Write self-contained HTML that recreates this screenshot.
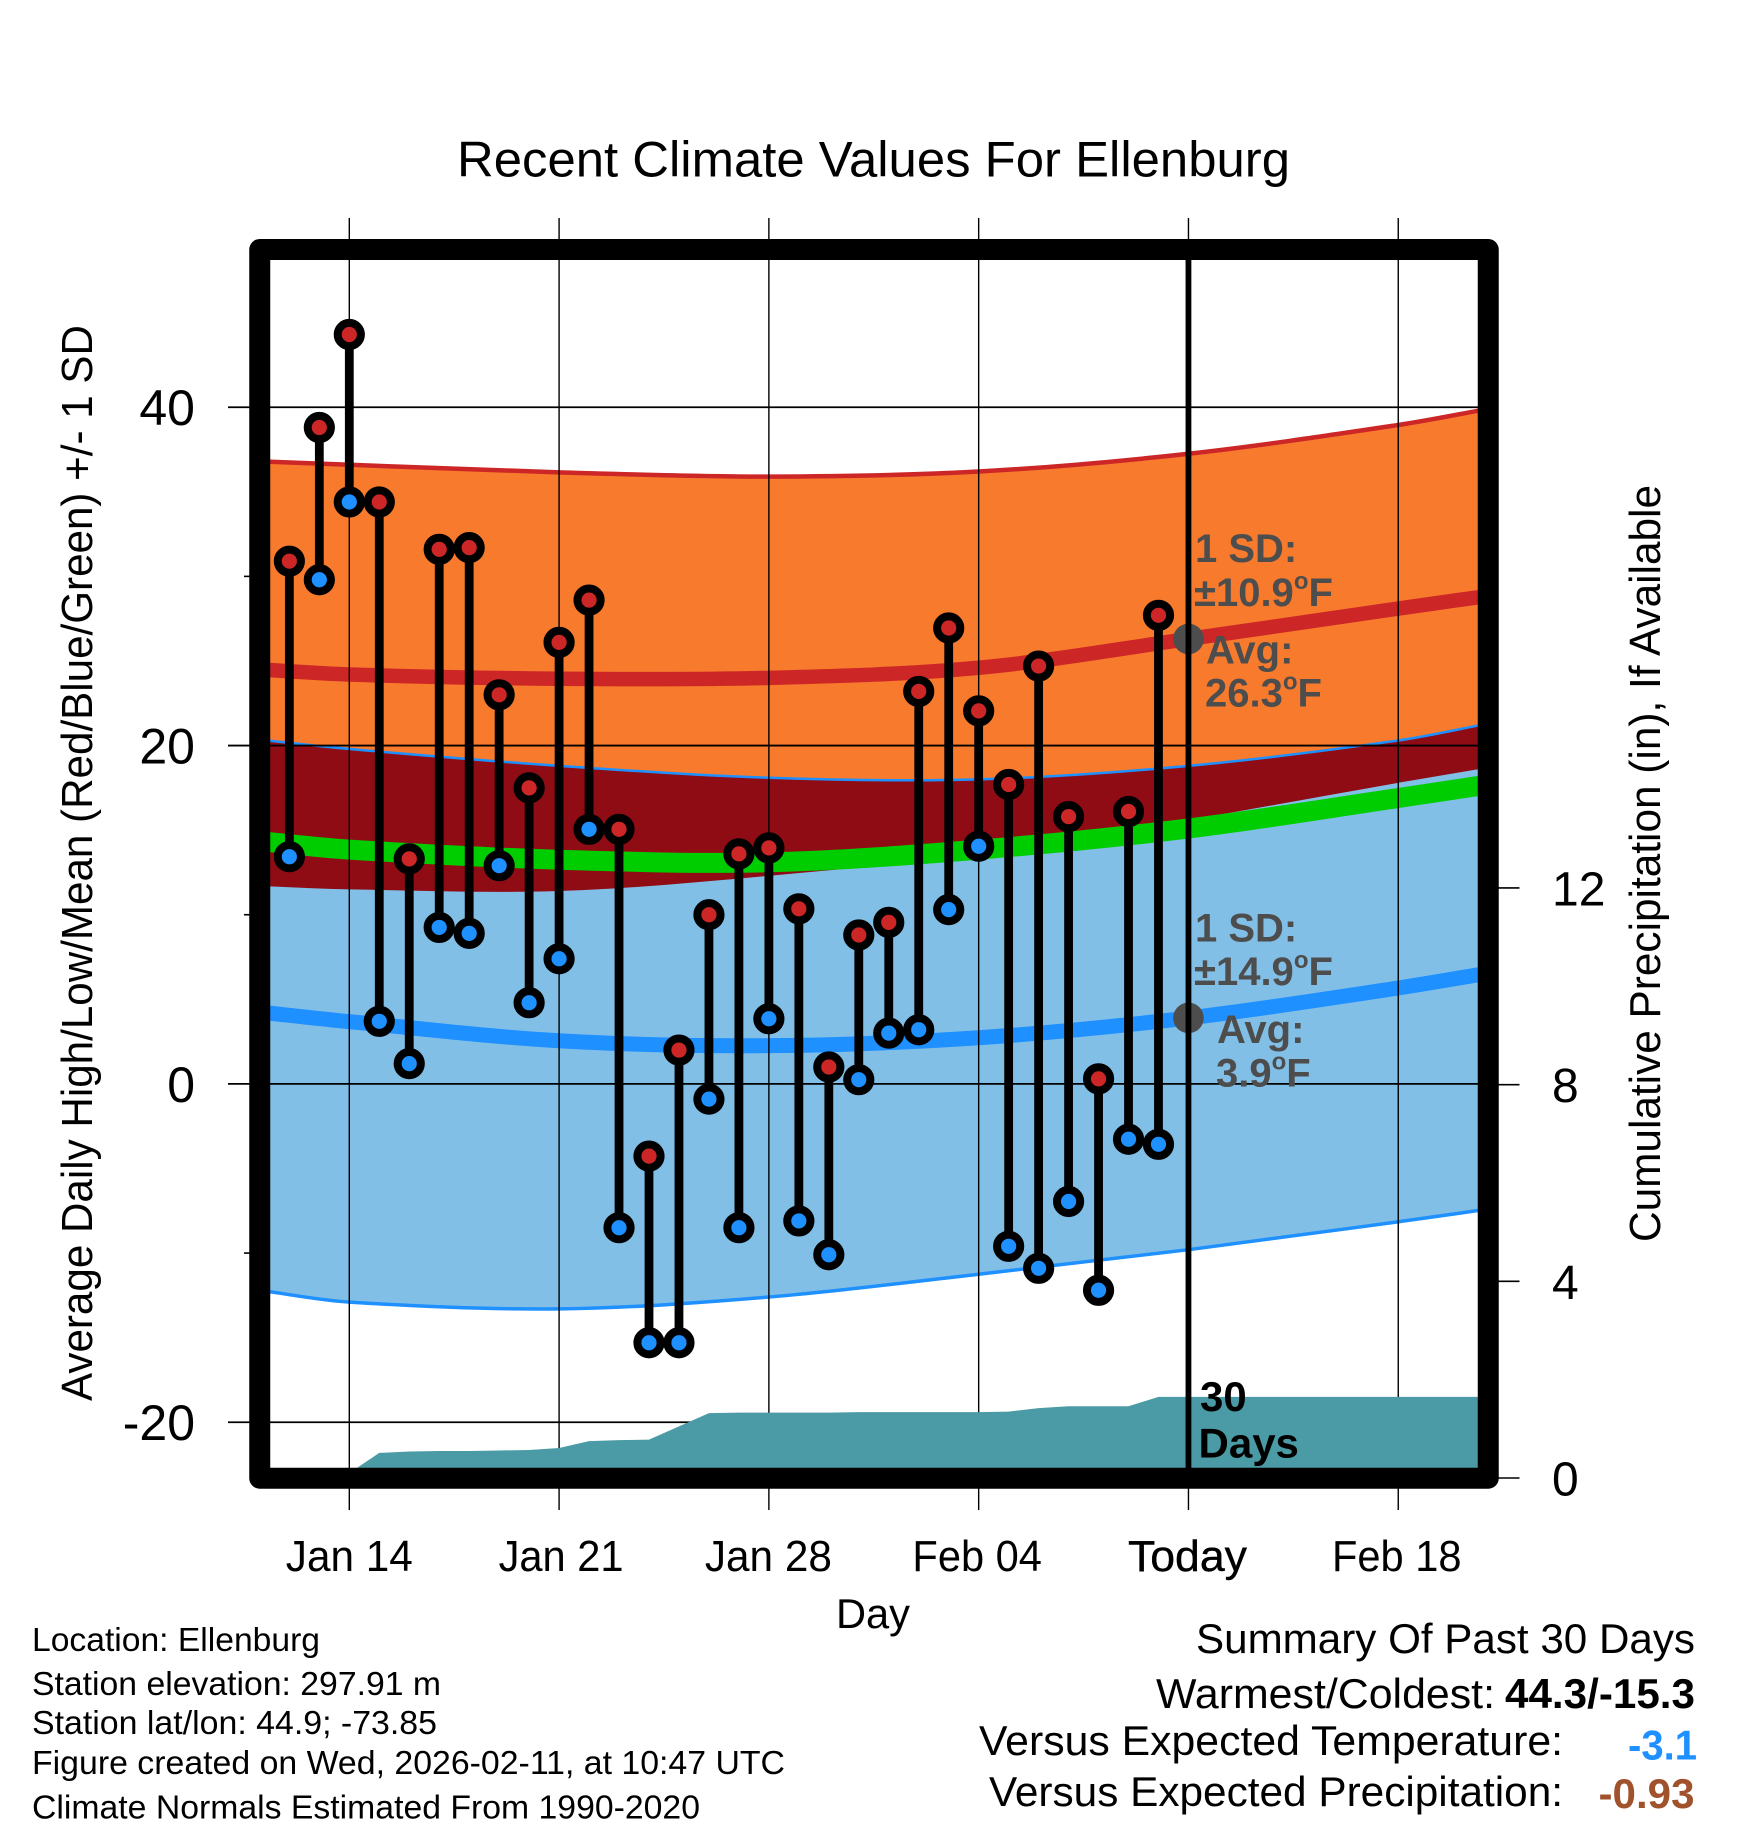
<!DOCTYPE html>
<html lang="en">
<head>
<meta charset="utf-8">
<title>Recent Climate Values For Ellenburg</title>
<style>
html,body{margin:0;padding:0;background:#fff;}
svg{display:block;font-family:"Liberation Sans",Arial,sans-serif;}
text{fill:#000;}
.g{fill:#4d4d4d;font-weight:bold;font-size:40px;}
</style>
</head>
<body>
<svg id="chart" xmlns="http://www.w3.org/2000/svg" width="1748" height="1828" viewBox="0 0 1748 1828">
<defs><clipPath id="plot-clip"><rect x="270" y="260" width="1208" height="1208"/></clipPath></defs>
<rect x="0" y="0" width="1748" height="1828" fill="#fff"/>
<g id="plot" clip-path="url(#plot-clip)"></g>
<g id="axes"></g>
<g id="marks" clip-path="url(#plot-clip)"></g>

<text x="873.5" y="176.5" font-size="50" text-anchor="middle" textLength="833" lengthAdjust="spacingAndGlyphs">Recent Climate Values For Ellenburg</text>
<text transform="translate(92 863) rotate(-90)" font-size="44" text-anchor="middle" textLength="1076" lengthAdjust="spacingAndGlyphs">Average Daily High/Low/Mean (Red/Blue/Green) +/- 1 SD</text>
<text transform="translate(1660 863.5) rotate(-90)" font-size="44" text-anchor="middle" textLength="757" lengthAdjust="spacingAndGlyphs">Cumulative Precipitation (in), If Available</text>
<text x="873" y="1628" font-size="42" text-anchor="middle" textLength="74" lengthAdjust="spacingAndGlyphs">Day</text>

<text class="g" x="1195" y="562">1 SD:</text>
<text class="g" x="1194" y="606">±10.9<tspan font-size="24" dy="-17">o</tspan><tspan dy="17">F</tspan></text>
<text class="g" x="1206" y="663.5">Avg:</text>
<text class="g" x="1205" y="706.5">26.3<tspan font-size="24" dy="-17">o</tspan><tspan dy="17">F</tspan></text>
<text class="g" x="1195" y="941.5">1 SD:</text>
<text class="g" x="1194" y="985">±14.9<tspan font-size="24" dy="-17">o</tspan><tspan dy="17">F</tspan></text>
<text class="g" x="1217" y="1043">Avg:</text>
<text class="g" x="1216" y="1086.5">3.9<tspan font-size="24" dy="-17">o</tspan><tspan dy="17">F</tspan></text>

<text x="1200" y="1411" font-size="42" font-weight="bold">30</text>
<text x="1198.5" y="1457.5" font-size="42" font-weight="bold">Days</text>

<text x="32" y="1651" font-size="33" textLength="288" lengthAdjust="spacingAndGlyphs">Location: Ellenburg</text>
<text x="32" y="1695" font-size="33" textLength="409" lengthAdjust="spacingAndGlyphs">Station elevation: 297.91 m</text>
<text x="32" y="1734" font-size="33" textLength="405" lengthAdjust="spacingAndGlyphs">Station lat/lon: 44.9; -73.85</text>
<text x="32" y="1774" font-size="33" textLength="753" lengthAdjust="spacingAndGlyphs">Figure created on Wed, 2026-02-11, at 10:47 UTC</text>
<text x="32" y="1818.5" font-size="33" textLength="668" lengthAdjust="spacingAndGlyphs">Climate Normals Estimated From 1990-2020</text>

<text x="1695" y="1653" font-size="42" text-anchor="end" textLength="499" lengthAdjust="spacingAndGlyphs">Summary Of Past 30 Days</text>
<text x="1495" y="1708" font-size="42" text-anchor="end" textLength="339" lengthAdjust="spacingAndGlyphs">Warmest/Coldest:</text>
<text x="1695" y="1708" font-size="42" font-weight="bold" text-anchor="end" textLength="190" lengthAdjust="spacingAndGlyphs">44.3/-15.3</text>
<text x="1563" y="1755" font-size="42" text-anchor="end" textLength="584" lengthAdjust="spacingAndGlyphs">Versus Expected Temperature:</text>
<text x="1697" y="1759.5" font-size="42" font-weight="bold" text-anchor="end" style="fill:#1e90ff" textLength="69" lengthAdjust="spacingAndGlyphs">-3.1</text>
<text x="1563" y="1806" font-size="42" text-anchor="end" textLength="574" lengthAdjust="spacingAndGlyphs">Versus Expected Precipitation:</text>
<text x="1694.5" y="1808" font-size="42" font-weight="bold" text-anchor="end" style="fill:#a0522d" textLength="96" lengthAdjust="spacingAndGlyphs">-0.93</text>
</svg>

<script>
// Daily observations, Jan 12 through Feb 10 (degrees F)
const dailyHigh = [30.9,38.8,44.3,34.4,13.3,31.6,31.7,23.0,17.5,26.1,28.6,15.05,-4.27,2.0,10.0,13.6,13.95,10.35,1.0,8.8,9.55,23.2,26.95,22.05,17.7,24.7,15.8,0.3,16.1,27.7];
const dailyLow = [13.43,29.8,34.4,3.7,1.2,9.25,8.9,12.9,4.8,7.4,15.05,-8.5,-15.3,-15.3,-0.9,-8.5,3.85,-8.1,-10.1,0.25,3.0,3.2,10.3,14.05,-9.6,-10.9,-6.95,-12.2,-3.27,-3.57];
// Cumulative precipitation (inches), Jan 12 through Feb 10
const cumulativePrecip = [0,0,0.1,0.51,0.54,0.55,0.55,0.56,0.57,0.61,0.75,0.77,0.78,1.05,1.32,1.33,1.33,1.33,1.33,1.34,1.34,1.34,1.34,1.34,1.35,1.42,1.46,1.46,1.46,1.65];
// Climate normals, sampled at days counted from Jan 14
const normalDays = [-3,0,7,14,21,28,35,38];
const normalHighPlusSd = [36.8,36.6,36.15,35.9,36.2,37.25,38.95,39.9];
const normalHigh = [24.5,24.2,23.95,24.0,24.6,26.3,28.1,28.85];
const normalHighMinusSd = [11.7,11.5,11.4,12.3,13.6,15.6,17.8,18.7];
const normalMean = [14.35,13.85,13.25,13.1,13.85,15.1,16.9,17.7];
const normalLowPlusSd = [20.35,19.8,18.8,18.1,18.0,18.8,20.3,21.3];
const normalLow = [4.25,3.68,2.55,2.26,2.73,3.9,5.67,6.55];
const normalLowMinusSd = [-12.2,-12.9,-13.3,-12.6,-11.25,-9.8,-8.15,-7.4];
// Axes
const xTickDays = [0,7,14,21,28,35];
const xTickLabels = ['Jan 14','Jan 21','Jan 28','Feb 04','Today','Feb 18'];
const yMajorTicks = [40,20,0,-20];
const yMinorTicks = [30,10,-10];
const rightTicks = [12,8,4,0];
const firstObservationDay = -2;
const todayDay = 28;
const extendToDay = 38;
const todayHigh = 26.3;
const todayLow = 3.9;

const NS = 'http://www.w3.org/2000/svg';
const xOf = d => 349.3 + d * 29.97;
const yOf = t => 1083.9 - t * 16.917;
const yPrecip = p => 1478 - p * 49.17;
const plot = document.getElementById('plot');
const axes = document.getElementById('axes');
const marks = document.getElementById('marks');

// Fine-tuning for individual tick label text boxes
const tickLabelFit = {
  'Jan 14': {dx: 0, w: 127},
  'Jan 21': {dx: 2, w: 125},
  'Jan 28': {dx: -0.5, w: 127},
  'Feb 04': {dx: -1.5, w: 129.5},
  'Today': {dx: -1, w: 119},
  'Feb 18': {dx: -1.5, w: 129.5}
};

function make(tag, parent, props) {
  const el = document.createElementNS(NS, tag);
  for (const k in props) el.setAttribute(k, props[k]);
  parent.appendChild(el);
  return el;
}
function curvePoints(values) {
  return values.map((v, i) => [xOf(normalDays[i]), yOf(v)]);
}
function smooth(pts) {
  let d = '';
  for (let i = 0; i < pts.length - 1; i++) {
    const p0 = pts[Math.max(i - 1, 0)], p1 = pts[i], p2 = pts[i + 1], p3 = pts[Math.min(i + 2, pts.length - 1)];
    const h = p2[0] - p1[0];
    const m1 = (p2[1] - p0[1]) / (p2[0] - p0[0]);
    const m2 = (p3[1] - p1[1]) / (p3[0] - p1[0]);
    d += (i === 0 ? 'M' + p1[0] + ' ' + p1[1] : '') +
      'C' + (p1[0] + h / 3) + ' ' + (p1[1] + m1 * h / 3) + ' ' + (p2[0] - h / 3) + ' ' + (p2[1] - m2 * h / 3) + ' ' + p2[0] + ' ' + p2[1];
  }
  return d;
}
function band(upper, lower) {
  const back = smooth(curvePoints(lower).reverse()).replace(/^M/, 'L');
  return smooth(curvePoints(upper)) + back + 'Z';
}

// Normal bands
let el = make('path', plot, {d: band(normalHighPlusSd, normalHighMinusSd), fill: '#f77a2d'});


el = make('path', plot, {d: band(normalLowPlusSd, normalLowMinusSd), fill: '#82bfe6'});


el = make('path', plot, {d: band(normalLowPlusSd, normalHighMinusSd), fill: '#8f0c14'});



// Band edges
el = make('path', plot, {d: smooth(curvePoints(normalHighPlusSd)), fill: 'none', stroke: '#cd2626', 'stroke-width': 4.5});


el = make('path', plot, {d: smooth(curvePoints(normalLowPlusSd)), fill: 'none', stroke: '#1e90ff', 'stroke-width': 2.5});


el = make('path', plot, {d: smooth(curvePoints(normalLowMinusSd)), fill: 'none', stroke: '#1e90ff', 'stroke-width': 3.5});



// Thick normal lines
el = make('path', plot, {d: smooth(curvePoints(normalHigh)), fill: 'none', stroke: '#cd2626', 'stroke-width': 14.5});


el = make('path', plot, {d: smooth(curvePoints(normalLow)), fill: 'none', stroke: '#1e90ff', 'stroke-width': 15});


el = make('path', plot, {d: smooth(curvePoints(normalMean)), fill: 'none', stroke: '#00cd00', 'stroke-width': 20});



// Grid lines and ticks
xTickDays.forEach((d, i) => {
  const line = make('line', axes, {x1: xOf(d), x2: xOf(d), y1: 218, y2: 1510, stroke: '#000', 'stroke-width': 1.4});
  
  
  const fit = tickLabelFit[xTickLabels[i]];
  const label = make('text', axes, {x: xOf(d) + fit.dx, y: 1571, 'font-size': 44, 'text-anchor': 'middle', textLength: fit.w, lengthAdjust: 'spacingAndGlyphs'});
  label.textContent = xTickLabels[i];
  if (xTickLabels[i] === 'Today') { label.setAttribute('stroke', '#000'); label.setAttribute('stroke-width', '0.4'); }
  
  
});
yMajorTicks.forEach(t => {
  const line = make('line', axes, {x1: 228, x2: 1478, y1: yOf(t), y2: yOf(t), stroke: '#000', 'stroke-width': 1.8});
  
  
  const label = make('text', axes, {x: 195, y: yOf(t) + 18, 'font-size': 50, 'text-anchor': 'end'});
  label.textContent = String(t);
  
  
});
yMinorTicks.forEach(t => {
  const line = make('line', axes, {x1: 244, x2: 260, y1: yOf(t), y2: yOf(t), stroke: '#000', 'stroke-width': 1.6});
  
  
});
rightTicks.forEach(p => {
  const line = make('line', axes, {x1: 1490, x2: 1519.5, y1: yPrecip(p), y2: yPrecip(p), stroke: '#000', 'stroke-width': 1.6});
  
  
  const label = make('text', axes, {x: 1552, y: yPrecip(p) + 17.5, 'font-size': 48});
  label.textContent = String(p);
  
  
});

// Cumulative precipitation area
const precipPts = cumulativePrecip.map((p, i) => xOf(firstObservationDay + i) + ',' + yPrecip(p));
const lastPrecip = cumulativePrecip[cumulativePrecip.length - 1];
precipPts.push(xOf(extendToDay) + ',' + yPrecip(lastPrecip));
precipPts.push(xOf(extendToDay) + ',' + yPrecip(0));
precipPts.push(xOf(firstObservationDay) + ',' + yPrecip(0));
el = make('polygon', marks, {points: precipPts.join(' '), fill: '#4a9ba5'});



// Today markers and line
el = make('circle', marks, {cx: xOf(todayDay), cy: yOf(todayHigh), r: 15.3, fill: '#4d4d4d'});


el = make('circle', marks, {cx: xOf(todayDay), cy: yOf(todayLow), r: 15.3, fill: '#4d4d4d'});


el = make('line', marks, {x1: xOf(todayDay), x2: xOf(todayDay), y1: 240, y2: 1490, stroke: '#000', 'stroke-width': 5.8});



// Daily stems and markers
dailyHigh.forEach((h, i) => {
  const x = xOf(firstObservationDay + i);
  const stem = make('line', marks, {x1: x, x2: x, y1: yOf(h), y2: yOf(dailyLow[i]), stroke: '#000', 'stroke-width': 8.8});
  
  
});
dailyHigh.forEach((h, i) => {
  const x = xOf(firstObservationDay + i);
  const low = make('circle', marks, {cx: x, cy: yOf(dailyLow[i]), r: 11.6, fill: '#1e90ff', stroke: '#000', 'stroke-width': 8});
  
  
  const high = make('circle', marks, {cx: x, cy: yOf(h), r: 11.6, fill: '#cd2626', stroke: '#000', 'stroke-width': 8});
  
  
});

// Plot frame
el = make('rect', document.getElementById('chart'), {x: 259.75, y: 249.5, width: 1228.5, height: 1228.7, fill: 'none', stroke: '#000', 'stroke-width': 21, 'stroke-linejoin': 'round'});


</script>
</body>
</html>
